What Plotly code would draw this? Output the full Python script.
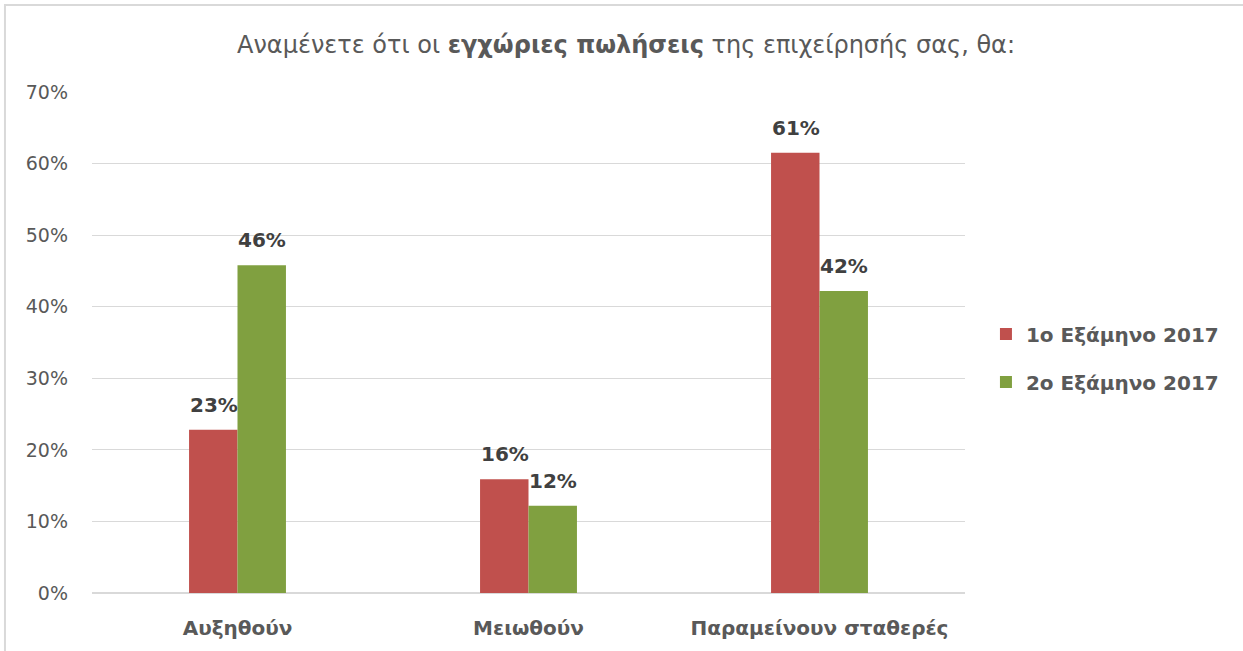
import plotly.graph_objects as go

categories = ["Αυξηθούν", "Μειωθούν", "Παραμείνουν σταθερές"]
series_names = ["1ο Εξάμηνο 2017", "2ο Εξάμηνο 2017"]
values_h1 = [0.228, 0.159, 0.615]
values_h2 = [0.458, 0.122, 0.422]
labels_h1 = ["23%", "16%", "61%"]
labels_h2 = ["46%", "12%", "42%"]
colors = ["#C0504D", "#80A040"]

FONT = "DejaVu Sans, sans-serif"

fig = go.Figure()
for i, (name, vals, labs, col) in enumerate(zip(series_names, [values_h1, values_h2],
                                                [labels_h1, labels_h2], colors)):
    fig.add_trace(go.Bar(
        x=categories, y=vals, name="<b>%s</b>" % name, marker_color=col,
        marker_line_width=0, legendgroup="g%d" % i,
    ))
    shift = -24 if i == 0 else 24
    for c, v, l in zip(categories, vals, labs):
        fig.add_annotation(x=c, y=v, text="<b>%s</b>" % l, showarrow=False,
                           xshift=shift, yshift=11, yanchor="bottom",
                           font=dict(size=20, color="#404040", family=FONT))

fig.update_layout(
    width=1243, height=651,
    margin=dict(l=92, r=278, t=92, b=58),
    paper_bgcolor="white", plot_bgcolor="white",
    barmode="group", bargap=0.667, bargroupgap=0,
    font=dict(family=FONT, color="#595959"),
    title=dict(text="Αναμένετε ότι οι <b>εγχώριες πωλήσεις</b> της επιχείρησής σας, θα:",
               x=626 / 1243, xref="container", xanchor="center",
               y=1 - 45 / 651, yref="container", yanchor="middle",
               font=dict(size=24, color="#595959", family=FONT)),
    legend=dict(x=1.024, y=0.469, xanchor="left", yanchor="middle",
                font=dict(size=20, color="#595959", family=FONT), tracegroupgap=19,
                itemwidth=30),
    showlegend=True,
)
fig.update_xaxes(tickfont=dict(size=20, color="#595959", family=FONT),
                 showline=False, ticks="", ticklabelstandoff=21,
                 tickprefix="<b>", ticksuffix="</b>")
fig.update_yaxes(range=[0, 0.7], dtick=0.1, tickformat=".0%",
                 gridcolor="#D9D9D9", gridwidth=1, zeroline=True, zerolinecolor="#D9D9D9",
                 zerolinewidth=2, tickfont=dict(size=19, color="#595959", family=FONT),
                 ticks="", ticklabelstandoff=23)
fig.add_shape(type="rect", xref="paper", yref="paper",
              x0=-0.0997, x1=1.5, y0=-0.5, y1=1.1737,
              line=dict(color="#D9D9D9", width=2))
fig.write_html("out.html", config={"displayModeBar": False},
               post_script="document.body.style.margin='0';")
